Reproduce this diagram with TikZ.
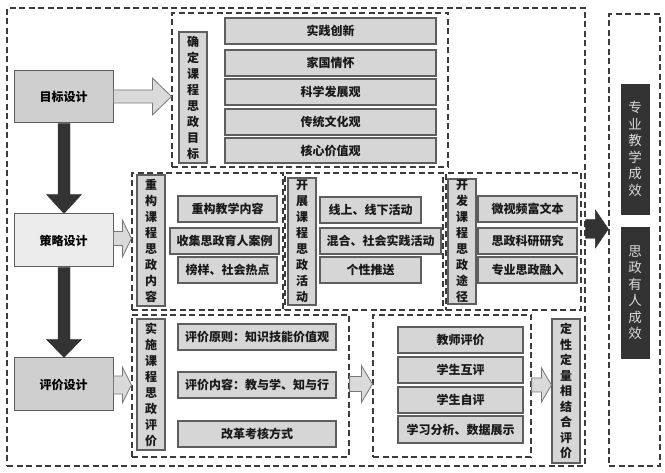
\documentclass[tikz,border=0pt]{standalone}
\usepackage{fontspec}
\setmainfont{Noto Sans CJK SC}
\usetikzlibrary{calc}
\definecolor{dashc}{HTML}{3C3C3C}
\definecolor{itemfill}{HTML}{D6D6D6}
\definecolor{itemdraw}{HTML}{5E5E5E}
\definecolor{mainfill}{HTML}{CFCFCF}
\definecolor{lightfill}{HTML}{ECECEC}
\definecolor{darkfill}{HTML}{333333}
\definecolor{arrowfill}{HTML}{DADADA}
\definecolor{arrowdraw}{HTML}{777777}
\newcommand\bx[7]{%
  \pgfmathsetmacro\bxcx{(#2+#4)/2}\pgfmathsetmacro\bxcy{(#3+#5)/2}%
  \pgfmathsetmacro\bxw{#4-#2}\pgfmathsetmacro\bxh{#5-#3}%
  \node[#6, minimum width=\bxw pt, minimum height=\bxh pt, inner sep=0pt] (#1) at (\bxcx,\bxcy) {#7};}
\newcommand\harrow[7]{%
  \draw[#1] let \p1=(#2), \p2=(#3), \p3=(0,#4) in
    (\x1,\y3+#5) -- (\x2-#7,\y3+#5) -- (\x2-#7,\y3+#6) -- (\x2,\y3)
    -- (\x2-#7,\y3-#6) -- (\x2-#7,\y3-#5) -- (\x1,\y3-#5) -- cycle;}
\newcommand\varrow[7]{%
  \draw[#1] let \p1=(#2), \p2=(#3), \p3=(#4,0) in
    (\x3-#5,\y1) -- (\x3-#5,\y2+#7) -- (\x3-#6,\y2+#7) -- (\x3,\y2)
    -- (\x3+#6,\y2+#7) -- (\x3+#5,\y2+#7) -- (\x3+#5,\y1) -- cycle;}
\begin{document}
\begin{tikzpicture}[x=1pt,y=-1pt,
  dashbox/.style={draw=dashc, line width=1.2pt, dash pattern=on 6pt off 3.5pt},
  item/.style={draw=itemdraw, line width=1.1pt, fill=itemfill, font=\fontsize{12}{14}\selectfont\bfseries, text=black!90},
  vlabel/.style={draw=itemdraw, line width=1.1pt, fill=itemfill, align=center, font=\fontsize{12}{16}\selectfont\bfseries, text=black!90},
  mainbox/.style={draw=itemdraw, line width=1pt, fill=mainfill, font=\fontsize{12}{14}\selectfont\bfseries},
  darkbox/.style={draw=darkfill, fill=darkfill, align=center, text=white!85!black, font=\fontsize{13.5}{16.5}\selectfont},
  hollow/.style={draw=arrowdraw, line width=0.8pt, fill=arrowfill},
  solid/.style={draw=darkfill, fill=darkfill}]
\useasboundingbox (0,0) rectangle (665,473);
\fill[white] (0,0) rectangle (665,473);
% dashed containers
\bx{outer}{7}{8}{585}{466}{dashbox}{}
\bx{right}{609}{14}{660}{466}{dashbox}{}
\bx{blkT}{172}{13}{448}{167}{dashbox}{}
\bx{blkA}{132}{173}{283}{310}{dashbox}{}
\bx{blkB}{285}{173}{443}{310}{dashbox}{}
\bx{blkC}{446}{173}{581}{310}{dashbox}{}
\bx{blkD}{132}{315}{349}{457}{dashbox}{}
\bx{blkE}{373}{315}{531}{457}{dashbox}{}
% left main boxes
\bx{mb}{14}{71}{113}{123}{mainbox}{目标设计}
\bx{cl}{14}{214}{113}{267}{mainbox,fill=lightfill}{策略设计}
\bx{pj}{14}{358}{113}{411}{mainbox}{评价设计}
% right dark boxes
\bx{cx1}{621}{84}{649}{214}{darkbox}{专\\业\\教\\学\\成\\效}
\bx{cx2}{621}{227}{649}{358}{darkbox}{思\\政\\有\\人\\成\\效}
% goal block
\bx{lT}{179}{32}{207}{163}{vlabel}{确\\定\\课\\程\\思\\政\\目\\标}
\bx{t1}{225}{18}{436}{44}{item}{实践创新}
\bx{t2}{225}{50}{436}{76}{item}{家国情怀}
\bx{t3}{225}{79}{436}{105}{item}{科学发展观}
\bx{t4}{225}{109}{436}{135}{item}{传统文化观}
\bx{t5}{225}{138}{436}{163}{item}{核心价值观}
% strategy block A
\bx{lA}{137}{175}{165}{306}{vlabel}{重\\构\\课\\程\\思\\政\\内\\容}
\bx{a1}{178}{196}{277}{222}{item}{重构教学内容}
\bx{a2}{170}{228}{279}{254}{item}{收集思政育人案例}
\bx{a3}{178}{257}{277}{283}{item}{榜样、社会热点}
% block B
\bx{lB}{288}{178}{316}{305}{vlabel}{开\\展\\课\\程\\思\\政\\活\\动}
\bx{b1}{320}{197}{421}{223}{item}{线上、线下活动}
\bx{b2}{320}{228}{441}{254}{item}{混合、社会实践活动}
\bx{b3}{320}{257}{421}{283}{item}{个性推送}
% block C
\bx{lC}{448}{179}{476}{304}{vlabel}{开\\发\\课\\程\\思\\政\\途\\径}
\bx{c1}{478}{196}{577}{222}{item}{微视频富文本}
\bx{c2}{478}{228}{577}{254}{item}{思政科研研究}
\bx{c3}{478}{257}{577}{283}{item}{专业思政融入}
% block D
\bx{lD}{137}{319}{165}{450}{vlabel}{实\\施\\课\\程\\思\\政\\评\\价}
\bx{d1}{178}{324}{336}{350}{item}{评价原则：知识技能价值观}
\bx{d2}{178}{372}{336}{398}{item}{评价内容：教与学、知与行}
\bx{d3}{178}{421}{336}{447}{item}{改革考核方式}
% block E
\bx{e1}{398}{327}{523}{353}{item}{教师评价}
\bx{e2}{398}{357}{523}{383}{item}{学生互评}
\bx{e3}{398}{387}{523}{413}{item}{学生自评}
\bx{e4}{398}{416}{523}{443}{item}{学习分析、数据展示}
\bx{lF}{552}{319}{580}{463}{vlabel,font=\fontsize{12}{15.5}\selectfont\bfseries}{定\\性\\定\\量\\相\\结\\合\\评\\价}
% hollow arrows
\harrow{hollow}{mb.east}{blkT.west}{96.5}{6.5}{18.5}{19}
\harrow{hollow}{cl.east}{blkA.west}{238.5}{7}{18.5}{9}
\harrow{hollow}{pj.east}{blkD.west}{385}{9}{18}{9}
\harrow{hollow}{blkD.east}{blkE.west}{384}{7.5}{18.5}{11}
\harrow{hollow}{blkE.east}{lF.west}{385}{7}{17}{10}
% solid arrows
\varrow{solid}{mb.south}{cl.north}{64}{6}{17.5}{19}
\varrow{solid}{cl.south}{pj.north}{64}{6}{17.5}{18}
\harrow{solid}{outer.east}{right.west}{229}{9.5}{19}{13}
\end{tikzpicture}
\end{document}
